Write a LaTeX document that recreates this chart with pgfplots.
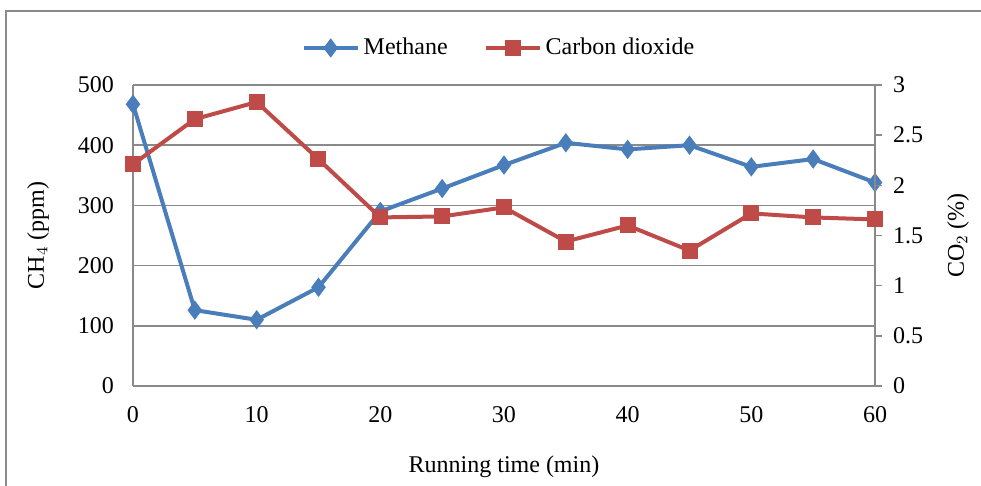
\documentclass[border=0pt]{standalone}
\usepackage{pgfplots}
\pgfplotsset{compat=1.18}
\usepackage{fontspec}
\setmainfont{Liberation Serif}

\definecolor{ch4blue}{HTML}{4A7EBB}
\definecolor{co2red}{HTML}{BE4B48}
\definecolor{axgray}{HTML}{8A8A8A}

\pgfplotstableread{
t   ch4
0   468
5   126
10  110
15  164
20  290
25  328
30  367
35  404
40  393
45  400
50  364
55  377
60  338
}\methane

\pgfplotstableread{
t   co2
0   2.21
5   2.66
10  2.83
15  2.26
20  1.68
25  1.69
30  1.78
35  1.44
40  1.60
45  1.35
50  1.72
55  1.68
60  1.66
}\carbon

\pgfplotsset{
  common/.style={
    scale only axis,
    width=371pt, height=150.5pt,
    at={(0,0)}, anchor=south west,
    xmin=0, xmax=60,
    font=\fontsize{12}{14}\selectfont,
    /pgf/number format/assume math mode=true,
    axis line style={axgray, line width=0.75pt},
    tick style={axgray, line width=0.75pt},
  },
}

\begin{document}
\begin{tikzpicture}
\path[use as bounding box] (-66.5pt,-50pt) rectangle (424pt,193pt);
% outer chart frame
\draw[axgray, line width=0.6pt] (-63.5pt,-50pt) -- (-63.5pt,187.5pt) -- (424pt,187.5pt);

\begin{axis}[
  common,
  axis x line*=bottom, axis y line*=left,
  ymin=0, ymax=500,
  xtick={0,10,...,60}, ytick={0,100,...,500},
  major tick length=0pt,
  ymajorgrids,
  grid style={axgray, line width=0.75pt},
  xticklabel style={yshift=-6.5pt},
  yticklabel style={xshift=-6pt},
  xlabel={Running time (min)},
  xlabel style={at={(axis description cs:0.5,-0.269)}, anchor=center},
  ylabel={CH$_4$ (ppm)},
  ylabel style={at={(axis description cs:-0.128,0.5)}, anchor=center},
]
\addplot[ch4blue, line width=2pt, mark=diamond*, mark size=3.2pt,
  mark options={solid, fill=ch4blue}] table[x=t, y=ch4] {\methane};
\end{axis}

\begin{axis}[
  common,
  axis x line=none, axis y line*=right,
  ymin=0, ymax=3,
  ytick={0,0.5,...,3},
  yticklabel style={/pgf/number format/fixed, /pgf/number format/precision=1, xshift=2pt},
  tick align=outside, major tick length=3.5pt,
  ylabel={CO$_2$ (\%)},
  ylabel style={at={(axis description cs:1.112,0.5)}, anchor=center},
  legend columns=2,
  legend style={at={(0.5,1)}, anchor=center, xshift=-2pt, yshift=18.5pt, draw=none, fill=none,
    font=\fontsize{12}{14}\selectfont,
    /tikz/every even column/.append style={column sep=16pt}},
  legend cell align=left,
  legend image code/.code={
    \draw[#1, mark repeat=2, mark phase=2] plot coordinates {(0pt,0pt) (13.5pt,0pt) (27pt,0pt)};
  },
]
\addlegendimage{ch4blue, line width=2pt, mark=diamond*, mark size=3.2pt, mark options={solid, fill=ch4blue}}
\addlegendentry{Methane}
\addplot[co2red, line width=2pt, mark=square*, mark size=3pt,
  mark options={solid, fill=co2red}] table[x=t, y=co2] {\carbon};
\addlegendentry{Carbon dioxide}
\end{axis}
\end{tikzpicture}
\end{document}
